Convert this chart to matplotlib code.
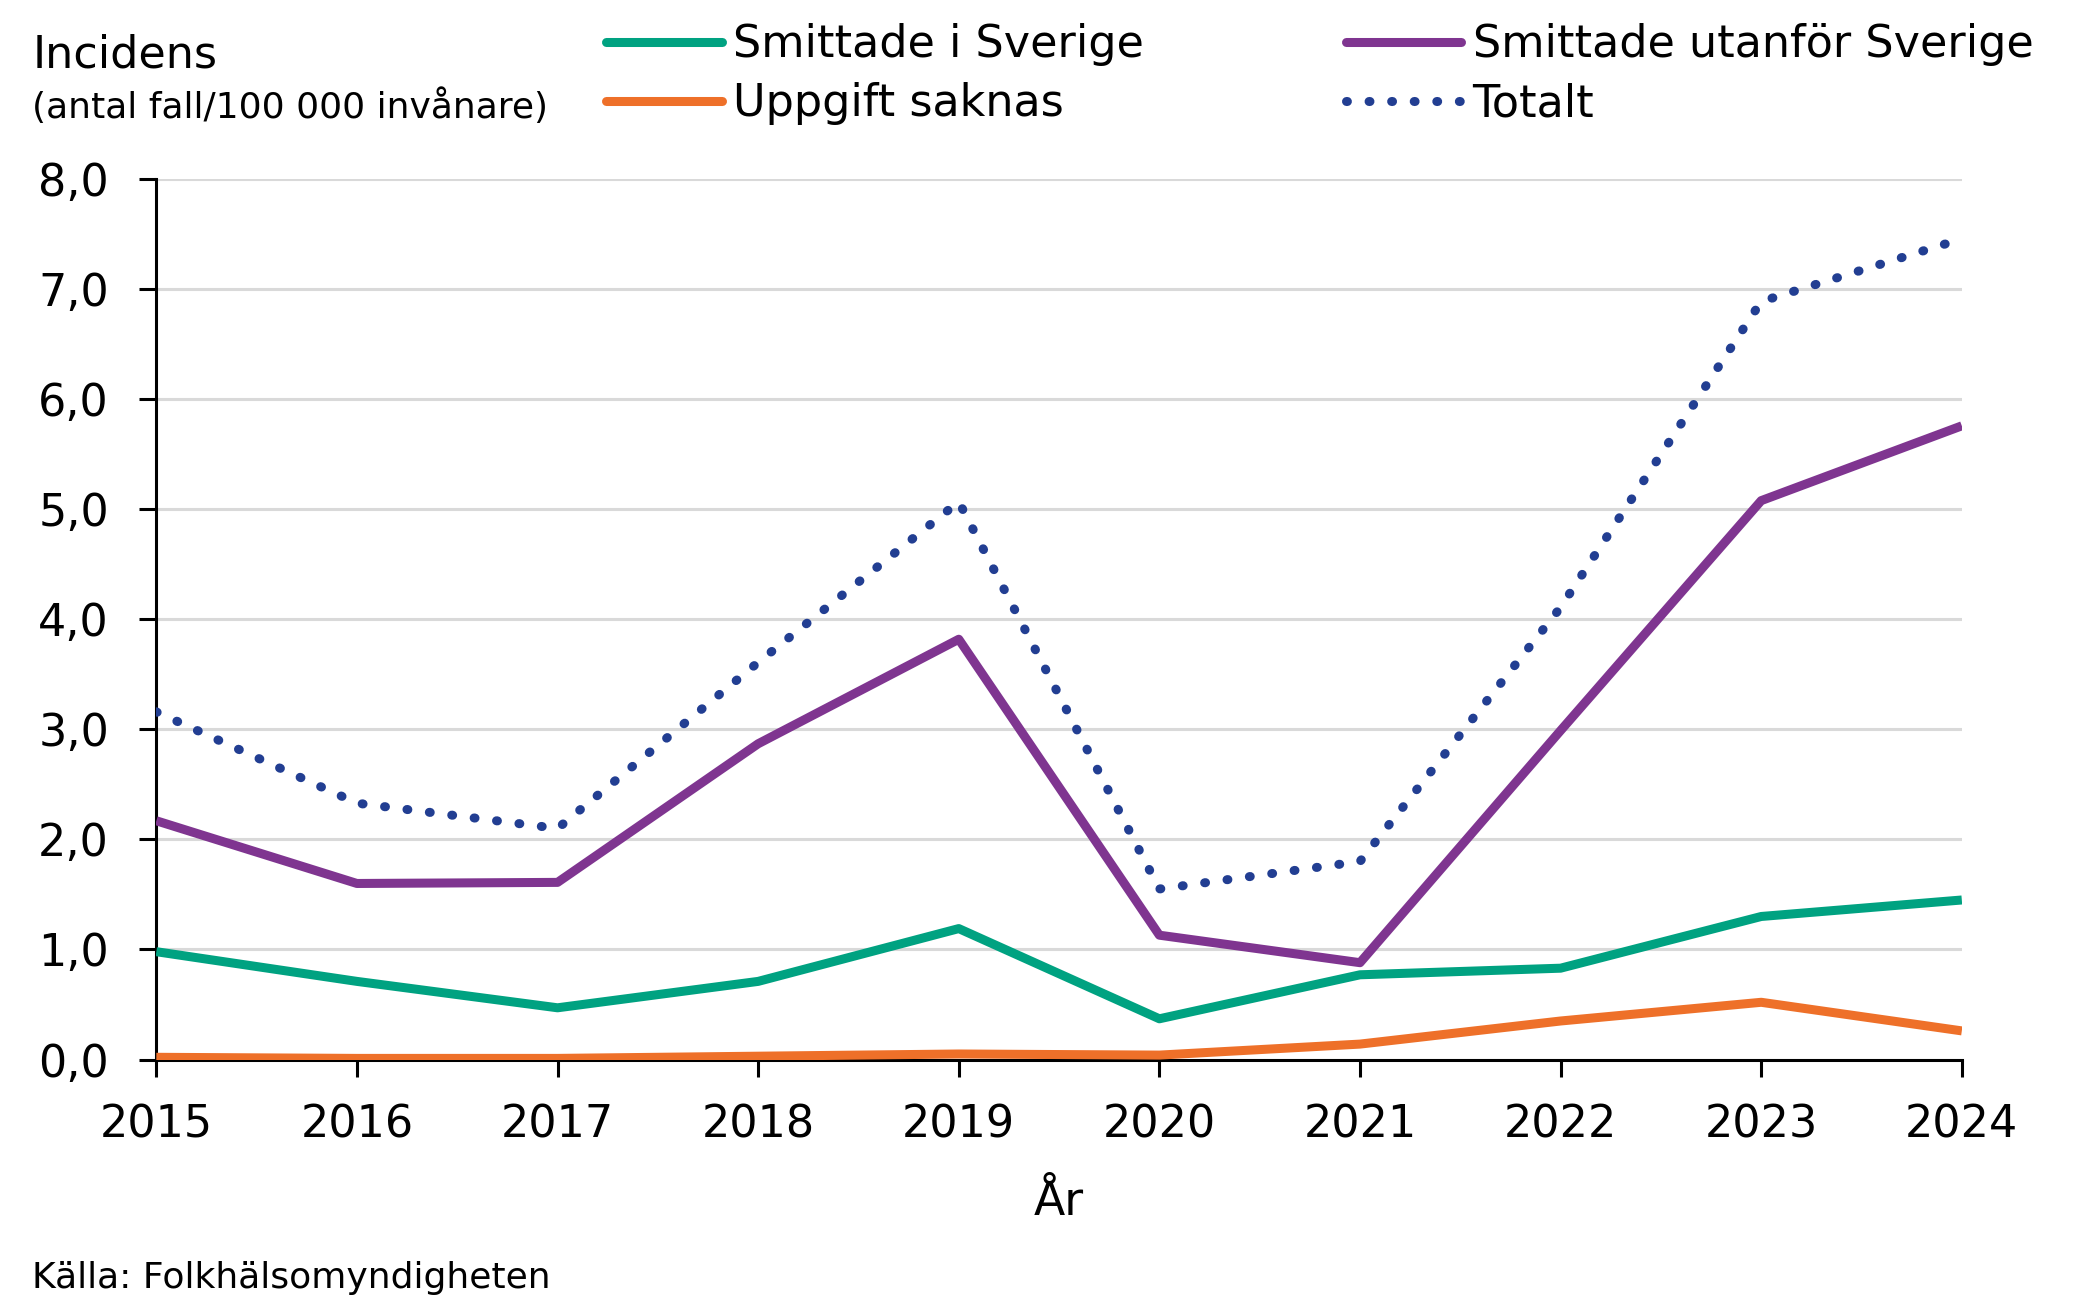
import matplotlib
matplotlib.use("Agg")
import matplotlib.pyplot as plt
from matplotlib.ticker import FuncFormatter

plt.rcParams['font.family'] = ['DejaVu Sans']

# data
years = [2015, 2016, 2017, 2018, 2019, 2020, 2021, 2022, 2023, 2024]
smittade_sverige = [0.98, 0.71, 0.47, 0.71, 1.19, 0.37, 0.77, 0.83, 1.30, 1.45]
smittade_utanfor = [2.17, 1.60, 1.61, 2.87, 3.82, 1.13, 0.88, 2.99, 5.08, 5.76]
uppgift_saknas = [0.02, 0.01, 0.01, 0.03, 0.05, 0.04, 0.14, 0.35, 0.52, 0.26]
totalt = [3.16, 2.33, 2.10, 3.61, 5.07, 1.55, 1.80, 4.11, 6.89, 7.46]
yticks = [0, 1, 2, 3, 4, 5, 6, 7, 8]

GREEN = '#00a281'
PURPLE = '#7f3590'
ORANGE = '#ee7029'
NAVY = '#223e92'

fig = plt.figure(figsize=(20.76, 13), dpi=100)
ax = fig.add_axes([0.0753, 0.185, 0.8697, 0.677])

lw = 6.5
ax.plot(years, smittade_sverige, color=GREEN, lw=lw, label='Smittade i Sverige',
        solid_capstyle='butt', zorder=3)
ax.plot(years, smittade_utanfor, color=PURPLE, lw=lw, label='Smittade utanför Sverige',
        solid_capstyle='butt', zorder=3)
ax.plot(years, uppgift_saknas, color=ORANGE, lw=lw, label='Uppgift saknas',
        solid_capstyle='butt', zorder=3)
ax.plot(years, totalt, color=NAVY, lw=lw, label='Totalt',
        linestyle=(0, (0.1, 2.4)), dash_capstyle='round', zorder=4)

ax.set_xlim(2015, 2024)
ax.set_ylim(0, 8)
ax.set_xticks(years)
ax.set_yticks(yticks)
ax.yaxis.set_major_formatter(FuncFormatter(lambda v, p: f"{v:.1f}".replace('.', ',')))

ax.grid(axis='y', color='#d9d9d9', lw=2.2, zorder=0)
ax.set_axisbelow(True)
for s in ['top', 'right']:
    ax.spines[s].set_visible(False)
for s in ['left', 'bottom']:
    ax.spines[s].set_linewidth(2.2)
    ax.spines[s].set_color('black')
ax.tick_params(axis='both', direction='out', length=12, width=2.2,
               labelsize=32, colors='black')
ax.tick_params(axis='x', pad=20)
ax.tick_params(axis='y', pad=22)

ax.set_xlabel('År', fontsize=33, labelpad=24)

fig.text(0.0155, 0.948, 'Incidens', fontsize=32, va='baseline')
fig.text(0.0155, 0.909, '(antal fall/100 000 invånare)', fontsize=26, va='baseline')
fig.text(0.0155, 0.009, 'Källa: Folkhälsomyndigheten', fontsize=26, va='baseline')

handles, labels = ax.get_legend_handles_labels()
order = [0, 2, 1, 3]
leg = fig.legend([handles[i] for i in order], [labels[i] for i in order],
                 loc='upper left', bbox_to_anchor=(0.277, 1.006), ncol=2,
                 frameon=False, fontsize=32, handlelength=2.6,
                 handletextpad=0.25, columnspacing=4.55, labelspacing=0.36,
                 borderpad=0.2)
for line in leg.get_lines():
    line.set_solid_capstyle('round')

fig.savefig('out.png', dpi=100)
